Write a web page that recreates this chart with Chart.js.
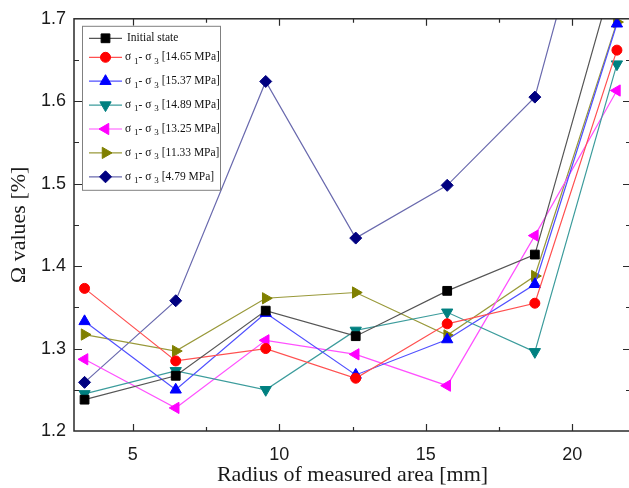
<!DOCTYPE html>
<html>
<head>
<meta charset="utf-8">
<script src="https://cdn.jsdelivr.net/npm/chart.js@4.4.0/dist/chart.umd.min.js"></script>
<style>
  html, body { margin: 0; padding: 0; background: #fff; overflow: hidden; }
</style>
</head>
<body>
<canvas id="omegaChart" width="640" height="488"></canvas>
<script>
// radius of measured area [mm]
const radius = [3.36, 6.47, 9.54, 12.61, 15.73, 18.72, 21.52];

// omega values [%] per loading state
const initialState = [1.238, 1.267, 1.346, 1.315, 1.370, 1.414, 1.766];
const s1465 = [1.373, 1.285, 1.300, 1.264, 1.330, 1.355, 1.662];
const s1537 = [1.333, 1.250, 1.343, 1.268, 1.311, 1.378, 1.694];
const s1489 = [1.245, 1.273, 1.250, 1.322, 1.344, 1.296, 1.645];
const s1325 = [1.287, 1.228, 1.310, 1.293, 1.255, 1.437, 1.613];
const s1133 = [1.317, 1.297, 1.361, 1.368, 1.316, 1.388, 1.696];
const s479  = [1.259, 1.358, 1.624, 1.434, 1.498, 1.605, 1.970];

const stressLabels = ['14.65', '15.37', '14.89', '13.25', '11.33', '4.79'];
const xTicks = [5, 10, 15, 20];
const yTicks = [1.2, 1.3, 1.4, 1.5, 1.6, 1.7];

const toPts = vals => vals.map((v, i) => ({ x: radius[i], y: v }));

function series(label, vals, line, fill, style, rot, r) {
  return {
    label: label,
    data: toPts(vals),
    borderColor: line,
    backgroundColor: fill,
    pointBackgroundColor: fill,
    pointBorderColor: fill,
    pointBorderWidth: 1,
    borderWidth: 1.2,
    pointStyle: style,
    pointRotation: rot,
    pointRadius: r,
    tension: 0
  };
}

const sig = s => 'σ₁- σ₃ [' + s + ' MPa]';

const datasets = [
  series('Initial state', initialState, '#555555', '#000000', 'rect', 0, 6.2),
  series(sig(stressLabels[0]), s1465, '#ff5050', '#ff0000', 'circle', 0, 5),
  series(sig(stressLabels[1]), s1537, '#5050ff', '#0000ff', 'triangle', 0, 6.5),
  series(sig(stressLabels[2]), s1489, '#3c9c9c', '#008080', 'triangle', 180, 6.5),
  series(sig(stressLabels[3]), s1325, '#ff50ff', '#ff00ff', 'triangle', -90, 6.5),
  series(sig(stressLabels[4]), s1133, '#99993a', '#808000', 'triangle', 90, 6.5),
  series(sig(stressLabels[5]), s479, '#6a6aae', '#000080', 'rectRot', 0, 6)
];

// frame + inward ticks on all four sides
const frameTicks = {
  id: 'frameTicks',
  afterDraw(chart) {
    const { ctx, chartArea: a, scales: { x, y } } = chart;
    ctx.save();
    ctx.strokeStyle = '#2a2a2a';
    ctx.lineWidth = 1.5;
    ctx.strokeRect(a.left, a.top, a.right - a.left, a.bottom - a.top);
    ctx.lineWidth = 1.2;
    ctx.beginPath();
    for (let v = 5; v <= 22; v += 2.5) {
      const px = Math.round(x.getPixelForValue(v)) + 0.5;
      const len = v % 5 === 0 ? 7 : 4;
      ctx.moveTo(px, a.bottom); ctx.lineTo(px, a.bottom - len);
      ctx.moveTo(px, a.top); ctx.lineTo(px, a.top + len);
    }
    for (let i = 1; i < 10; i++) {
      const py = Math.round(y.getPixelForValue(1.2 + i * 0.05)) + 0.5;
      const len = i % 2 === 0 ? 8 : 5;
      ctx.moveTo(a.left, py); ctx.lineTo(a.left + len, py);
      ctx.moveTo(a.right, py); ctx.lineTo(a.right - len, py);
    }
    ctx.stroke();
    ctx.restore();
  }
};

// boxed legend inside the plot, with subscripts
const boxLegend = {
  id: 'boxLegend',
  afterDraw(chart) {
    const { ctx, chartArea: a } = chart;
    const bx = a.left + 8, by = a.top + 7, bw = 138, bh = 164;
    ctx.save();
    ctx.fillStyle = '#fff';
    ctx.fillRect(bx, by, bw, bh);
    ctx.strokeStyle = '#808080';
    ctx.lineWidth = 1;
    ctx.strokeRect(bx + 0.5, by + 0.5, bw, bh);
    chart.data.datasets.forEach((ds, i) => {
      const yy = by + (i === 0 ? 12.5 : 31.5 + (i - 1) * 23.9);
      ctx.strokeStyle = ds.borderColor;
      ctx.lineWidth = 1.2;
      ctx.beginPath();
      ctx.moveTo(bx + 7, yy); ctx.lineTo(bx + 40, yy);
      ctx.stroke();
      ctx.fillStyle = ds.pointBackgroundColor;
      ctx.strokeStyle = ds.pointBorderColor;
      ctx.lineWidth = 1;
      Chart.helpers.drawPoint(ctx, {
        pointStyle: ds.pointStyle, rotation: ds.pointRotation,
        radius: ds.pointRadius, borderWidth: 1
      }, bx + 23.5, yy);
      ctx.fillStyle = '#111';
      ctx.textBaseline = 'middle';
      const big = '11.5px "Liberation Serif"', small = '9px "Liberation Serif"';
      if (i === 0) {
        ctx.font = big;
        ctx.fillText('Initial state', bx + 45, yy);
        return;
      }
      let tx = bx + 43;
      const parts = [['σ ', big, 0], ['1', small, 4], ['- σ ', big, 0], ['3', small, 4], [' [' + stressLabels[i - 1] + ' MPa]', big, 0]];
      parts.forEach(([t, f, dy]) => {
        ctx.font = f;
        ctx.fillText(t, tx, yy + dy);
        tx += ctx.measureText(t).width;
      });
    });
    ctx.restore();
  }
};

new Chart(document.getElementById('omegaChart'), {
  type: 'line',
  data: { datasets: datasets },
  options: {
    responsive: false,
    animation: false,
    layout: { padding: { top: 18, right: 9, left: 0, bottom: 0 } },
    plugins: { legend: { display: false }, tooltip: { enabled: false } },
    scales: {
      x: {
        type: 'linear',
        min: 3,
        max: 22,
        grid: { display: false, drawTicks: false },
        border: { display: false },
        afterBuildTicks: s => { s.ticks = xTicks.map(v => ({ value: v })); },
        afterFit: s => { s.height = 57; },
        ticks: {
          padding: 13,
          color: '#1a1a1a',
          font: { family: '"Liberation Sans", Arial', size: 18 },
          maxRotation: 0
        },
        title: {
          display: true,
          text: 'Radius of measured area [mm]',
          color: '#1a1a1a',
          font: { family: '"Liberation Serif", "Times New Roman"', size: 22 },
          padding: { top: 0, bottom: 0 }
        }
      },
      y: {
        min: 1.2,
        max: 1.7,
        grid: { display: false, drawTicks: false },
        border: { display: false },
        afterBuildTicks: s => { s.ticks = yTicks.map(v => ({ value: v })); },
        afterFit: s => { s.width = 74; },
        ticks: {
          padding: 8,
          color: '#1a1a1a',
          font: { family: '"Liberation Sans", Arial', size: 18 },
          callback: v => v.toFixed(1)
        },
        title: {
          display: true,
          text: 'Ω values [%]',
          color: '#1a1a1a',
          font: { family: '"Liberation Serif", "Times New Roman"', size: 22 },
          padding: { top: 6, bottom: 6 }
        }
      }
    }
  },
  plugins: [frameTicks, boxLegend]
});
</script>
</body>
</html>
